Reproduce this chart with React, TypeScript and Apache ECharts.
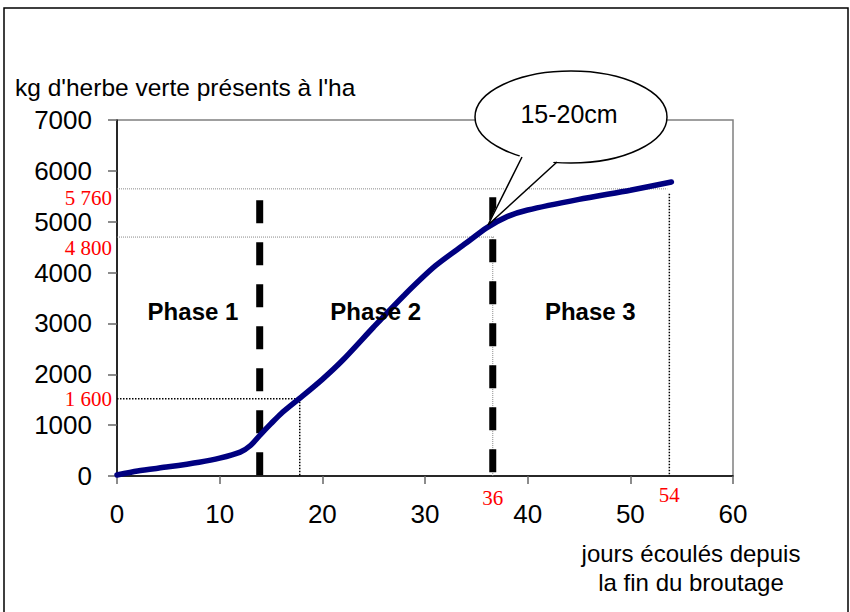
import React, { useEffect, useRef } from "react";
import * as echarts from "echarts";

// Main growth curve (days after end of grazing -> kg green grass / ha)
const days = [0, 2, 5, 8, 10, 12, 13, 14, 15, 16, 18, 20, 22, 25, 28, 31, 34, 36, 38, 40, 45, 50, 54];
const herbage = [20, 100, 180, 270, 350, 470, 600, 820, 1030, 1230, 1560, 1900, 2280, 2930, 3560, 4130, 4580, 4880, 5100, 5230, 5440, 5620, 5780];

// Axis ticks
const xTicks = { min: 0, max: 60, interval: 10 };
const yTicks = { min: 0, max: 7000, interval: 1000 };

// Reference levels (horizontal dotted lines)
const levelLabels = ["1 600", "4 800", "5 760"];
const levelValues = [1520, 4698, 5646];
const levelEndDays = [17.8, 36.8, 53.6];

// Reference days (vertical dotted lines)
const dayLabels = ["36", "54"];
const dayMarks = [36.6, 53.8];
const dayMarkTops = [4698, 5550];
const lowMarkDay = 17.8;
const lowMarkTop = 1520;

// Phase boundaries (thick dashed lines)
const boundaryDays = [13.9, 36.6];
const boundaryTops = [5420, 5480];

// Phase labels
const phaseNames = ["Phase 1", "Phase 2", "Phase 3"];
const phaseDays = [7.4, 25.2, 46.1];
const phaseLevel = 3235;

const SANS = "'Liberation Sans', Arial, sans-serif";
const SERIF = "'Liberation Serif', 'Times New Roman', serif";

export default function App() {
  const ref = useRef<HTMLDivElement>(null);

  useEffect(() => {
    if (!ref.current) return;
    const chart = echarts.init(ref.current, undefined, { renderer: "svg" });

    const levelOffsets = [0, 11, 9];
    const levelColors = ["#000", "#888", "#888"];
    const levelSeries = levelValues.map((v, i) => ({
      type: "line",
      silent: true,
      symbol: "none",
      z: 2,
      data: [
        [0, v],
        [levelEndDays[i], v],
      ],
      lineStyle: { type: "dotted", width: i === 0 ? 1.5 : 1, color: levelColors[i] },
    }));

    const redText = {
      color: "#ff0000",
      fontFamily: SERIF,
      fontSize: 21,
      lineHeight: 16,
      textBorderWidth: 0,
    };

    const levelLabelSeries = {
      type: "scatter",
      silent: true,
      symbol: "circle",
      symbolSize: 0,
      itemStyle: { opacity: 1 },
      z: 6,
      data: levelValues.map((v, i) => ({
        value: [0, v],
        label: {
          show: true,
          position: "left",
          distance: 5,
          offset: [0, levelOffsets[i]],
          formatter: levelLabels[i],
          ...redText,
        },
      })),
    };

    const dayLabelDist = [14, 11];
    const dayLabelSeries = {
      type: "scatter",
      silent: true,
      symbol: "circle",
      symbolSize: 0,
      itemStyle: { opacity: 1 },
      z: 6,
      data: dayMarks.map((d, i) => ({
        value: [d, 0],
        label: {
          show: true,
          position: "bottom",
          distance: dayLabelDist[i],
          formatter: dayLabels[i],
          ...redText,
        },
      })),
    };

    const daySeries = dayMarks.map((d, i) => ({
      type: "line",
      silent: true,
      symbol: "none",
      z: 2,
      data: [
        [d, dayMarkTops[i]],
        [d, 0],
      ],
      lineStyle: { type: "dotted", width: i === 0 ? 1 : 1.5, color: i === 0 ? "#888" : "#000" },
    }));

    const lowSeries = {
      type: "line",
      silent: true,
      symbol: "none",
      z: 2,
      data: [
        [lowMarkDay, lowMarkTop],
        [lowMarkDay, 0],
      ],
      lineStyle: { type: "dotted", width: 1.5, color: "#000" },
    };

    const boundarySeries = boundaryDays.map((d, i) => ({
      type: "line",
      silent: true,
      symbol: "none",
      z: 3,
      data: [
        [d, boundaryTops[i]],
        [d, 0],
      ],
      lineStyle: { type: [23, 19], width: 7, color: "#000", cap: "butt" },
    }));

    const phaseSeries = {
      type: "scatter",
      silent: true,
      symbol: "circle",
      symbolSize: 0,
      itemStyle: { opacity: 1 },
      z: 5,
      data: phaseNames.map((n, i) => ({ value: [phaseDays[i], phaseLevel], name: n })),
      label: {
        show: true,
        position: "inside",
        formatter: (p: any) => p.name,
        color: "#000",
        textBorderWidth: 0,
        fontFamily: SANS,
        fontWeight: "bold",
        fontSize: 24,
      },
    };

    chart.setOption({
      animation: false,
      backgroundColor: "#fff",
      grid: {
        left: 117,
        right: 117,
        top: 120,
        bottom: 136,
        show: true,
        borderColor: "#808080",
        borderWidth: 1.5,
        backgroundColor: "transparent",
      },
      xAxis: {
        type: "value",
        min: xTicks.min,
        max: xTicks.max,
        interval: xTicks.interval,
        splitLine: { show: false },
        axisLine: { show: true, lineStyle: { color: "#000", width: 1.5 } },
        axisTick: { show: true, length: 8, lineStyle: { color: "#666", width: 1.5 } },
        axisLabel: { color: "#000", fontFamily: SANS, fontSize: 26, margin: 25, formatter: (v: number) => String(v) },
      },
      yAxis: {
        type: "value",
        min: yTicks.min,
        max: yTicks.max,
        interval: yTicks.interval,
        splitLine: { show: false },
        axisLine: { show: true, lineStyle: { color: "#000", width: 1.5 } },
        axisTick: { show: true, length: 9, lineStyle: { color: "#666", width: 1.5 } },
        axisLabel: { color: "#000", fontFamily: SANS, fontSize: 26, margin: 25, formatter: (v: number) => String(v) },
      },
      series: [
        ...levelSeries,
        ...daySeries,
        lowSeries,
        ...boundarySeries,
        phaseSeries,
        levelLabelSeries,
        dayLabelSeries,
        {
          type: "line",
          silent: true,
          symbol: "none",
          z: 4,
          smooth: 0.25,
          data: days.map((d, i) => [d, herbage[i]]),
          lineStyle: { color: "#000080", width: 5.5, cap: "round" },
        },
      ],
      graphic: [
        {
          type: "rect",
          z: 100,
          shape: { x: 4, y: 8, width: 844, height: 620 },
          style: { fill: "none", stroke: "#000", lineWidth: 1.5 },
        },
        {
          type: "text",
          z: 100,
          x: 15,
          y: 87,
          style: {
            text: "kg d'herbe verte présents à l'ha",
            fontFamily: SANS,
            fontSize: 24.5,
            fill: "#000",
            verticalAlign: "middle",
            align: "left",
          },
        },
        {
          type: "text",
          z: 100,
          x: 691,
          y: 539,
          style: {
            text: "jours écoulés depuis\nla fin du broutage",
            fontFamily: SANS,
            fontSize: 24,
            lineHeight: 29,
            fill: "#000",
            align: "center",
            verticalAlign: "top",
          },
        },
        {
          type: "ellipse",
          z: 100,
          shape: { cx: 571, cy: 117, rx: 96, ry: 46 },
          style: { fill: "#fff", stroke: "#000", lineWidth: 1.5 },
        },
        {
          type: "polygon",
          z: 101,
          shape: { points: [[521, 153], [488, 225], [558, 158], [555, 148], [525, 148]] },
          style: { fill: "#fff", stroke: "none" },
        },
        {
          type: "polyline",
          z: 102,
          shape: { points: [[522, 157], [488, 225], [557, 162]] },
          style: { fill: "none", stroke: "#000", lineWidth: 1.5 },
        },
        {
          type: "text",
          z: 103,
          x: 569,
          y: 114,
          style: {
            text: "15-20cm",
            fontFamily: SANS,
            fontSize: 25,
            fill: "#000",
            align: "center",
            verticalAlign: "middle",
          },
        },
      ],
    });

    return () => chart.dispose();
  }, []);

  return (
    <div
      ref={ref}
      style={{ position: "absolute", left: 0, top: 0, width: 850, height: 612, background: "#fff" }}
    />
  );
}
